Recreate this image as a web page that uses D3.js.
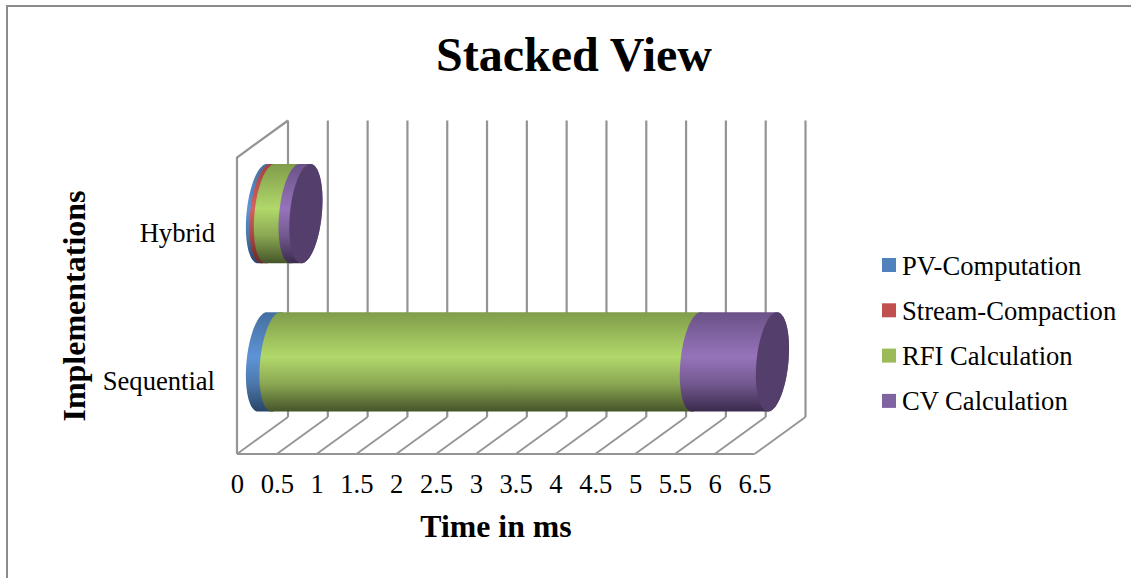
<!DOCTYPE html>
<html>
<head>
<meta charset="utf-8">
<script src="https://cdn.jsdelivr.net/npm/d3@7"></script>
<style>
  html, body { margin: 0; padding: 0; background: #fff; }
  svg { display: block; font-family: "Liberation Serif", serif; fill: #000; }
</style>
</head>
<body>
<svg id="chart" width="1131" height="578"></svg>
<script>
// Time per implementation, in milliseconds
const categories = ["Hybrid", "Sequential"];
const seriesNames = ["PV-Computation", "Stream-Compaction", "RFI Calculation", "CV Calculation"];
const pvComputation = [0.045, 0.17];
const streamCompaction = [0.055, 0];
const rfiCalculation = [0.31, 5.28];
const cvCalculation = [0.135, 0.955];
const tickValues = d3.range(0, 6.51, 0.5);

const seriesValues = [pvComputation, streamCompaction, rfiCalculation, cvCalculation];
const swatchColors = ["#4f81bd", "#c0504d", "#9bbb59", "#8064a2"];
// Shading stops for the cylinder sides: top edge, highlight, lower third, bottom edge
const shades = [
  ["#44709f", "#5e93d6", "#4c77ab", "#284468"],
  ["#a04340", "#d8625e", "#a84744", "#6b2a28"],
  ["#809c49", "#b1d86b", "#8aa752", "#46552a"],
  ["#6a5287", "#9673bb", "#73598f", "#3a2b4d"]
];
const capColor = "#543f6c";

const svg = d3.select("#chart");
const defs = svg.append("defs");

// Plot frame: the front plane and the offset of the back wall
const depth = { dx: 51, dy: -37 };
const front = { top: 157.5, bottom: 454 };
const x = d3.scaleLinear().domain([0, 6.5]).range([237, 754.5]);
const y = d3.scaleBand().domain(categories).range([front.top, front.bottom]);
const gridColor = "#949494";

// Chart border, open on the right and bottom sides
svg.append("path")
  .attr("d", "M7,578V6H1131")
  .attr("fill", "none")
  .attr("stroke", "#8c8c8c")
  .attr("stroke-width", 2);

// Gridlines on the back wall
const grid = svg.append("g").attr("fill", "none").attr("stroke", gridColor).attr("stroke-width", 2.2);
grid.selectAll("line.back").data(tickValues).join("line")
  .attr("class", "back")
  .attr("x1", d => x(d) + depth.dx).attr("x2", d => x(d) + depth.dx)
  .attr("y1", front.top + depth.dy).attr("y2", front.bottom + depth.dy);

// Floor lines running from the front edge to the back wall
grid.selectAll("line.floor").data(tickValues).join("line")
  .attr("class", "floor")
  .attr("stroke-width", 1.8)
  .attr("x1", d => x(d)).attr("x2", d => x(d) + depth.dx)
  .attr("y1", front.bottom).attr("y2", front.bottom + depth.dy);

// Front floor edge and the left side wall
grid.append("line")
  .attr("x1", x(0)).attr("x2", x(6.5))
  .attr("y1", front.bottom).attr("y2", front.bottom);
grid.append("path")
  .attr("d", `M${x(0)},${front.bottom}V${front.top}L${x(0) + depth.dx},${front.top + depth.dy}`);

// Vertical shading for each series
seriesNames.forEach((name, i) => {
  const g = defs.append("linearGradient")
    .attr("id", "shade" + i)
    .attr("x1", 0).attr("x2", 0).attr("y1", 0).attr("y2", 1);
  [0, 0.45, 0.72, 1].forEach((o, j) => {
    g.append("stop").attr("offset", o).attr("stop-color", shades[i][j]);
  });
});

// Cylinder cross-section: a sheared ellipse centred on the bar's depth
const radiusX = 16;
const shear = 4.5;
const radiusY = y.bandwidth() * 0.335;
const axisShiftX = depth.dx / 2;
const axisShiftY = depth.dy / 2 + 0.5;

function arcPoints(cx, cy, from, to) {
  return d3.range(0, 41).map(k => {
    const t = from + (to - from) * k / 40;
    return [cx + radiusX * Math.cos(t) + shear * Math.sin(t), cy - radiusY * Math.sin(t)];
  });
}

// A side segment: left half of the ellipse at v0 joined to the right half at v1
function segmentPath(v0, v1, cy) {
  const c0 = x(v0) + axisShiftX, c1 = x(v1) + axisShiftX;
  const leftArc = arcPoints(c0, cy, Math.PI / 2, Math.PI * 3 / 2);
  const rightArc = arcPoints(c1, cy, -Math.PI / 2, Math.PI / 2);
  return d3.line()(leftArc.concat(rightArc)) + "Z";
}
function capPath(v, cy) {
  return d3.line()(arcPoints(x(v) + axisShiftX, cy, 0, Math.PI * 2)) + "Z";
}

// Stacked cylinders, earlier series first so each seam overlaps the one before
const stack = d3.stack()
  .keys(d3.range(seriesNames.length))
  .value((row, key) => row[key])(categories.map((c, i) => seriesValues.map(s => s[i])));

categories.forEach((cat, ci) => {
  const cy = y(cat) + y.bandwidth() / 2 + axisShiftY;
  const bar = svg.append("g");
  stack.forEach((layer, si) => {
    const [v0, v1] = layer[ci];
    if (v1 > v0) {
      bar.append("path")
        .attr("d", segmentPath(v0, v1, cy))
        .attr("fill", `url(#shade${si})`);
    }
  });
  const total = stack[stack.length - 1][ci][1];
  bar.append("path").attr("d", capPath(total, cy)).attr("fill", capColor);
});

// Axis labels
const xAxis = svg.append("g")
  .attr("transform", `translate(0,${front.bottom})`)
  .call(d3.axisBottom(x).tickValues(tickValues).tickSize(0).tickPadding(20).tickFormat(d3.format("~g")));
xAxis.select(".domain").remove();
xAxis.selectAll("text").attr("font-size", 26.6).attr("font-family", "Liberation Serif").attr("fill", "#000");

const yAxis = svg.append("g")
  .attr("transform", `translate(${x(0)},1.5)`)
  .call(d3.axisLeft(y).tickSize(0).tickPadding(22));
yAxis.select(".domain").remove();
yAxis.selectAll("text").attr("font-size", 26.6).attr("font-family", "Liberation Serif").attr("fill", "#000");

// Titles
svg.append("text").attr("x", 574).attr("y", 71).attr("text-anchor", "middle")
  .attr("font-size", 48).attr("font-weight", "bold").text("Stacked View");
svg.append("text").attr("x", 496).attr("y", 537).attr("text-anchor", "middle")
  .attr("font-size", 31.8).attr("font-weight", "bold").text("Time in ms");
svg.append("text").attr("transform", "translate(85,306) rotate(-90)").attr("text-anchor", "middle")
  .attr("font-size", 32).attr("font-weight", "bold").text("Implementations");

// Legend
const legend = svg.append("g").selectAll("g").data(seriesNames).join("g")
  .attr("transform", (d, i) => `translate(882,${258 + i * 45.3})`);
legend.append("rect").attr("width", 14).attr("height", 14).attr("fill", (d, i) => swatchColors[i]);
legend.append("text").attr("x", 20).attr("y", 16.5).attr("font-size", 26.6).text(d => d);
</script>
</body>
</html>
